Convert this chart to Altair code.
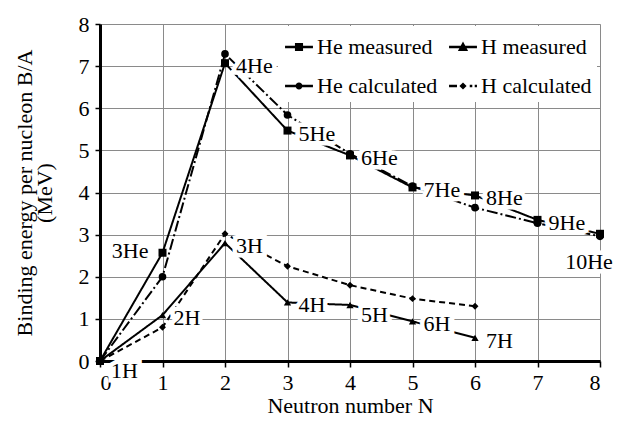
import altair as alt
import pandas as pd

# ---- data ----
N_he = [0, 1, 2, 3, 4, 5, 6, 7, 8]
he_measured = [0, 2.57, 7.07, 5.47, 4.88, 4.12, 3.93, 3.35, 3.02]
he_calculated = [0, 2.0, 7.29, 5.84, 4.92, 4.15, 3.64, 3.27, 2.96]
he_names = ["", "3He", "4He", "5He", "6He", "7He", "8He", "9He", "10He"]

N_h = [0, 1, 2, 3, 4, 5, 6]
h_measured = [0, 1.09, 2.80, 1.39, 1.33, 0.94, 0.55]
h_calculated = [0, 0.80, 3.02, 2.25, 1.80, 1.48, 1.30]
h_names = ["1H", "2H", "3H", "4H", "5H", "6H", "7H"]

# legend order (column-major fill: col1 = He, col2 = H)
series_names = ["He measured", "He calculated", "H measured", "H calculated"]

# label placement groups
labels_left = ["3He"]
labels_below = ["10He"]
labels_low_right = ["1H", "5H"]

FONT = "Liberation Serif"

rows = []
for n, v, lab in zip(N_he, he_measured, he_names):
    rows.append(dict(series="He measured", N=n, value=v, label=lab))
for n, v in zip(N_he, he_calculated):
    rows.append(dict(series="He calculated", N=n, value=v, label=""))
for n, v, lab in zip(N_h, h_measured, h_names):
    rows.append(dict(series="H measured", N=n, value=v, label=lab))
for n, v in zip(N_h, h_calculated):
    rows.append(dict(series="H calculated", N=n, value=v, label=""))
df = pd.DataFrame(rows)


def place(lab):
    if lab == "":
        return "none"
    if lab in labels_left:
        return "left"
    if lab in labels_below:
        return "below"
    if lab in labels_low_right:
        return "lowright"
    return "right"


df["place"] = df["label"].map(place)

base = alt.Chart(df)

axis_style = dict(
    domainColor="black", domainWidth=3,
    tickColor="black", tickWidth=1.5,
    gridColor="#8a8a8a", gridWidth=1,
    labelFont=FONT, titleFont=FONT,
    labelFontSize=22, titleFontSize=22,
    titleFontWeight=400,
)

x_enc = alt.X(
    "N:Q",
    scale=alt.Scale(domain=[0, 8], nice=False),
    axis=alt.Axis(values=list(range(9)), title="Neutron number N",
                  labelPadding=5, titlePadding=2, tickSize=6, **axis_style),
)
y_enc = alt.Y(
    "value:Q",
    scale=alt.Scale(domain=[0, 8], nice=False),
    axis=alt.Axis(values=list(range(9)),
                  title=["Binding energy per nucleon B/A", "(MeV)"],
                  labelPadding=6, tickSize=5, titlePadding=22,
                  titleLineHeight=20, **axis_style),
)

lines = base.mark_line(color="black", strokeWidth=2).encode(
    x=x_enc, y=y_enc,
    detail="series:N",
    strokeDash=alt.StrokeDash(
        "series:N",
        scale=alt.Scale(domain=series_names,
                        range=[[1, 0], [11, 3, 2, 3], [1, 0], [6, 4]]),
        legend=None),
)

points = base.mark_point(filled=True, color="black", opacity=1).encode(
    x=x_enc, y=y_enc,
    shape=alt.Shape("series:N",
                    scale=alt.Scale(domain=series_names,
                                    range=["square", "circle", "triangle-up", "diamond"]),
                    legend=None),
    size=alt.Size("series:N",
                  scale=alt.Scale(domain=series_names, range=[64, 48, 90, 30]),
                  legend=None),
)

placements = {
    "right": dict(align="left", dx=11, dy=3),
    "lowright": dict(align="left", dx=11, dy=10),
    "left": dict(align="right", dx=-14, dy=-2),
    "below": dict(align="center", dx=-11, dy=28),
}


def text_layer(key, halo):
    p = placements[key]
    kw = dict(font=FONT, fontSize=22, baseline="middle",
              align=p["align"], dx=p["dx"], dy=p["dy"])
    if halo:
        kw.update(stroke="white", strokeWidth=9, fill="white")
    else:
        kw.update(color="black")
    return base.transform_filter(alt.datum.place == key).mark_text(**kw).encode(
        x=x_enc, y=y_enc, text="label:N")


halos = [text_layer(k, True) for k in placements]
texts = [text_layer(k, False) for k in placements]

# legend symbols: line + marker, drawn as custom paths
LINE = "M-0.93,-0.09H0.93V0.09H-0.93Z "
legend_paths = [
    LINE + "M-0.27,-0.27H0.27V0.27H-0.27Z",
    LINE + "M-0.23,0A0.23,0.23,0,1,1,0.23,0A0.23,0.23,0,1,1,-0.23,0Z",
    LINE + "M0,-0.36L0.34,0.26H-0.34Z",
    "M-0.93,-0.09H-0.4V0.09H-0.93Z M-0.24,0L0,-0.24L0.24,0L0,0.24Z "
    "M0.45,-0.09H0.62V0.09H0.45Z M0.78,-0.09H0.93V0.09H0.78Z",
]

legend_layer = base.transform_filter("false").mark_point(
    filled=True, color="black", opacity=1, size=900).encode(
    x=x_enc, y=y_enc,
    shape=alt.Shape("series:N",
                    scale=alt.Scale(domain=series_names, range=legend_paths),
                    legend=alt.Legend(
                        title=None, orient="none", legendX=178, legendY=2,
                        columns=2, padding=5, rowPadding=12, columnPadding=8,
                        labelFont=FONT, labelFontSize=22, labelColor="black",
                        labelLimit=0, labelOffset=2, symbolSize=900,
                        fillColor="white")),
)

chart = alt.layer(lines, *halos, points, *texts, legend_layer).resolve_scale(
    shape="independent", size="independent"
).properties(
    width=500, height=337,
).configure(font=FONT)

chart.save("out.html", embed_options={"renderer": "svg", "actions": False})
